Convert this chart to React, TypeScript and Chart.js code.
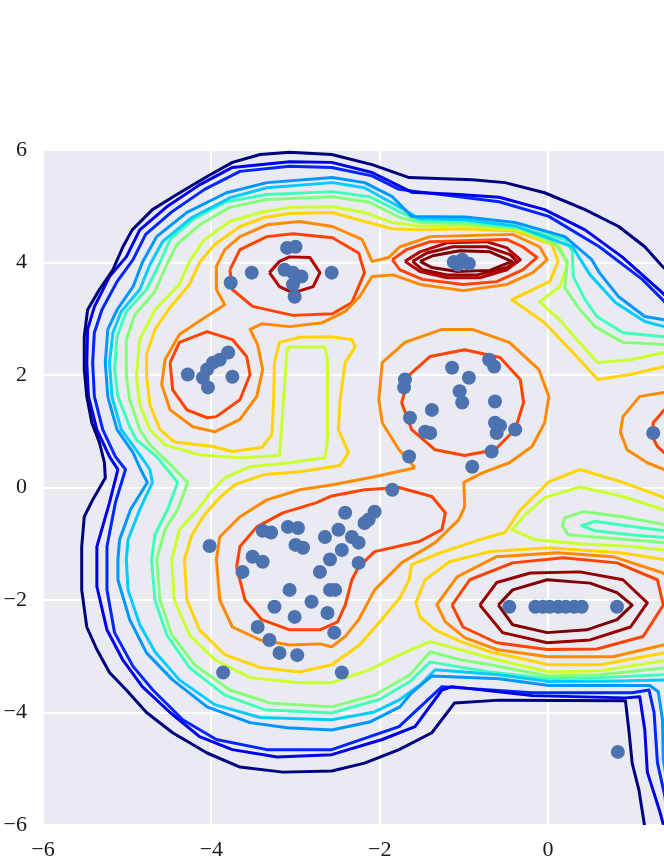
import { useEffect, useRef } from 'react';
import { Chart, registerables } from 'chart.js';

Chart.register(...registerables);

type Pt = [number, number];

const X_MIN = -6;
const X_MAX = 1.378;
const Y_MIN = -6;
const Y_MAX = 6;
const xTickValues = [-6, -4, -2, 0];
const yTickValues = [-6, -4, -2, 0, 2, 4, 6];

// ---- scatter points ----
const pointsA: Pt[] = [[-3.10,4.26],[-3.00,4.28],[-3.52,3.82],[-3.77,3.64],[-3.13,3.87],[-3.03,3.82],[-2.93,3.75],[-3.03,3.61],[-3.01,3.39],[-2.57,3.82]];
const pointsB: Pt[] = [[-4.28,2.01],[-4.05,2.10],[-3.98,2.22],[-3.90,2.27],[-3.80,2.40],[-4.10,1.95],[-4.04,1.78],[-3.75,1.97]];
const pointsC: Pt[] = [[-1.12,4.01],[-1.02,4.05],[-0.94,3.98],[-1.07,3.96]];
const pointsD: Pt[] = [[-1.14,2.13],[-0.70,2.27],[-0.64,2.15],[-0.94,1.95],[-1.05,1.71],[-1.02,1.51],[-0.63,1.53],[-1.70,1.92],[-1.71,1.78],[-1.38,1.38],[-1.64,1.24],[-1.46,0.99],[-1.40,0.97],[-0.63,1.15],[-0.57,1.10],[-0.61,0.97],[-0.39,1.03],[-0.67,0.64],[-1.65,0.55],[-0.90,0.37],[-1.85,-0.04]];
const pointsE: Pt[] = [[-4.02,-1.04],[-3.39,-0.77],[-3.29,-0.80],[-3.09,-0.70],[-2.97,-0.72],[-2.91,-1.07],[-3.00,-1.02],[-3.51,-1.23],[-3.39,-1.32],[-3.63,-1.50],[-2.71,-1.50],[-2.65,-0.88],[-2.59,-1.28],[-3.07,-1.82],[-2.81,-2.03],[-3.25,-2.12],[-3.01,-2.30],[-2.59,-1.82],[-2.62,-2.23],[-3.45,-2.48],[-3.31,-2.71],[-3.19,-2.94],[-2.98,-2.98],[-2.54,-2.58],[-3.86,-3.29],[-2.45,-3.29],[-2.41,-0.45],[-2.06,-0.43],[-2.13,-0.57],[-2.18,-0.63],[-2.49,-0.75],[-2.33,-0.88],[-2.25,-0.98],[-2.45,-1.11],[-2.25,-1.34],[-2.53,-1.82]];
const pointsF: Pt[] = [[-0.46,-2.12],[-0.15,-2.12],[-0.06,-2.12],[0.02,-2.12],[0.12,-2.12],[0.21,-2.12],[0.31,-2.12],[0.40,-2.12],[0.82,-2.12]];
const pointsOther: Pt[] = [[1.25,0.97],[0.83,-4.70]];

// ---- contour lines (level index 0 = outermost) ----
const lvl0: Pt[] = [[1.81,3.34],[1.36,3.93],[1.15,4.28],[0.84,4.64],[0.44,4.94],[-0.04,5.24],[-0.51,5.42],[-0.90,5.47],[-1.65,5.51],[-2.09,5.74],[-2.57,5.92],[-3.07,5.96],[-3.42,5.92],[-3.75,5.78],[-4.05,5.53],[-4.41,5.21],[-4.70,4.94],[-4.94,4.58],[-5.05,4.28],[-5.17,3.87],[-5.33,3.52],[-5.47,3.16],[-5.51,2.68],[-5.51,2.10],[-5.48,1.62],[-5.42,1.15],[-5.33,0.80],[-5.27,0.44],[-5.26,0.17],[-5.41,-0.22],[-5.51,-0.52],[-5.54,-1.05],[-5.54,-1.82],[-5.48,-2.48],[-5.36,-2.88],[-5.21,-3.29],[-5.01,-3.60],[-4.77,-4.00],[-4.46,-4.36],[-4.05,-4.72],[-3.66,-4.97],[-3.15,-5.06],[-2.57,-5.04],[-2.18,-4.90],[-1.77,-4.66],[-1.38,-4.36],[-1.11,-3.83],[-0.58,-3.78],[0.92,-3.79],[0.96,-4.31],[1.00,-4.90],[1.08,-5.38],[1.15,-6.04],[1.21,-6.80]];
const lvl1: Pt[] = [[1.81,2.80],[1.36,3.46],[0.88,4.10],[0.44,4.58],[-0.04,4.94],[-0.58,5.16],[-1.06,5.21],[-1.62,5.25],[-2.09,5.60],[-2.57,5.78],[-3.07,5.79],[-3.75,5.69],[-4.14,5.38],[-4.53,4.99],[-4.85,4.58],[-5.01,4.10],[-5.21,3.75],[-5.39,3.21],[-5.47,2.81],[-5.48,2.22],[-5.46,1.62],[-5.36,1.03],[-5.21,0.55],[-5.11,0.32],[-5.21,-0.27],[-5.36,-1.05],[-5.36,-1.76],[-5.24,-2.53],[-5.05,-3.07],[-4.82,-3.54],[-4.49,-4.00],[-4.14,-4.43],[-3.75,-4.66],[-3.22,-4.79],[-2.57,-4.75],[-1.97,-4.48],[-1.58,-4.25],[-1.26,-3.60],[-1.14,-3.54],[-0.19,-3.70],[0.92,-3.74],[1.09,-3.72],[1.15,-4.31],[1.18,-5.06],[1.33,-5.77],[1.45,-6.44]];
const lvl2: Pt[] = [[1.81,2.63],[1.36,3.34],[1.12,3.70],[0.61,4.28],[0.01,4.82],[-0.58,5.08],[-1.77,5.30],[-2.09,5.54],[-2.57,5.69],[-3.07,5.71],[-3.66,5.62],[-4.08,5.30],[-4.47,4.90],[-4.78,4.50],[-4.93,4.05],[-5.12,3.66],[-5.30,3.16],[-5.39,2.75],[-5.41,2.22],[-5.39,1.62],[-5.29,1.03],[-5.14,0.55],[-5.02,0.32],[-5.14,-0.27],[-5.24,-1.05],[-5.24,-1.82],[-5.15,-2.58],[-4.93,-3.18],[-4.70,-3.59],[-4.34,-4.13],[-3.94,-4.48],[-3.34,-4.66],[-2.57,-4.66],[-1.77,-4.25],[-1.26,-3.54],[-0.19,-3.65],[1.00,-3.65],[1.20,-3.60],[1.26,-4.00],[1.30,-4.89],[1.39,-5.50],[1.45,-6.30]];
const lvl3: Pt[] = [[1.69,2.90],[1.38,2.98],[1.15,3.04],[0.84,3.39],[0.61,3.82],[0.52,4.05],[0.20,4.46],[-0.39,4.71],[-0.98,4.81],[-1.62,4.82],[-1.85,5.17],[-2.18,5.42],[-2.56,5.51],[-3.34,5.42],[-3.82,5.24],[-4.29,4.89],[-4.65,4.46],[-4.82,4.00],[-4.93,3.57],[-5.12,3.16],[-5.23,2.81],[-5.26,2.22],[-5.23,1.61],[-5.12,1.03],[-4.93,0.62],[-4.84,0.32],[-4.76,0.09],[-4.96,-0.39],[-5.09,-0.93],[-5.11,-1.28],[-5.11,-1.64],[-4.97,-2.35],[-4.77,-2.94],[-4.46,-3.42],[-4.05,-3.90],[-3.54,-4.18],[-3.10,-4.27],[-2.57,-4.31],[-2.12,-4.17],[-1.76,-3.90],[-1.62,-3.65],[-1.38,-3.35],[-0.58,-3.40],[0.01,-3.52],[0.92,-3.52],[1.21,-3.52],[1.31,-3.63],[1.36,-4.13],[1.37,-4.84],[1.45,-5.55],[1.57,-6.44]];
const lvl4: Pt[] = [[1.69,2.81],[1.38,2.86],[1.15,2.95],[0.80,3.29],[0.50,3.78],[0.29,4.28],[-0.39,4.65],[-0.98,4.76],[-1.53,4.78],[-1.77,4.99],[-2.18,5.33],[-2.56,5.42],[-3.34,5.33],[-3.78,5.15],[-4.23,4.80],[-4.58,4.37],[-4.73,3.96],[-4.85,3.52],[-5.07,3.13],[-5.17,2.75],[-5.21,2.22],[-5.18,1.61],[-5.07,1.03],[-4.85,0.58],[-4.73,0.32],[-4.70,0.09],[-4.85,-0.39],[-4.99,-0.93],[-5.01,-1.28],[-4.99,-1.82],[-4.85,-2.44],[-4.67,-2.92],[-4.38,-3.42],[-3.96,-3.86],[-3.42,-4.09],[-2.57,-4.13],[-2.06,-3.99],[-1.76,-3.77],[-1.52,-3.51],[-1.34,-3.24],[-0.58,-3.33],[0.01,-3.45],[0.86,-3.44],[1.38,-3.42],[1.69,-3.42]];
const lvl5: Pt[] = [[1.69,2.63],[1.38,2.68],[0.89,2.75],[0.58,3.04],[0.44,3.34],[0.30,3.75],[0.29,4.19],[0.20,4.41],[-0.33,4.62],[-0.98,4.73],[-1.52,4.74],[-1.76,4.90],[-2.12,5.17],[-2.56,5.26],[-3.34,5.21],[-3.82,5.08],[-4.22,4.76],[-4.49,4.41],[-4.61,4.00],[-4.77,3.52],[-5.01,3.13],[-5.12,2.68],[-5.15,2.10],[-5.11,1.62],[-4.97,1.08],[-4.89,0.85],[-4.65,0.55],[-4.40,0.09],[-4.52,-0.39],[-4.67,-0.84],[-4.71,-1.28],[-4.67,-2.00],[-4.53,-2.62],[-4.26,-3.20],[-3.84,-3.69],[-3.37,-3.95],[-2.57,-4.01],[-2.00,-3.77],[-1.64,-3.45],[-1.40,-3.10],[-1.05,-3.19],[-0.69,-3.28],[0.01,-3.40],[0.62,-3.38],[1.38,-3.33],[1.69,-3.31]];
const lvl5Tongue: Pt[] = [[1.69,-0.75],[1.38,-0.77],[0.89,-0.67],[0.56,-0.60],[0.40,-0.68],[0.56,-0.77],[0.98,-0.84],[1.38,-0.89],[1.69,-0.93]];
const lvl6: Pt[] = [[1.69,2.50],[1.38,2.54],[0.89,2.58],[0.56,2.86],[0.38,3.16],[0.20,3.55],[0.23,4.02],[0.08,4.34],[-0.33,4.60],[-0.98,4.69],[-1.52,4.71],[-1.76,4.80],[-2.12,5.07],[-2.56,5.17],[-3.34,5.12],[-3.78,4.98],[-4.14,4.67],[-4.41,4.32],[-4.53,3.96],[-4.67,3.48],[-4.91,3.07],[-5.01,2.63],[-5.01,1.99],[-4.97,1.56],[-4.85,1.03],[-4.73,0.76],[-4.49,0.41],[-4.28,0.09],[-4.40,-0.39],[-4.55,-0.75],[-4.65,-1.28],[-4.61,-2.00],[-4.47,-2.62],[-4.20,-3.15],[-3.78,-3.60],[-3.31,-3.83],[-2.57,-3.90],[-2.06,-3.69],[-1.64,-3.33],[-1.40,-2.92],[-1.05,-3.06],[-0.69,-3.15],[0.01,-3.35],[0.62,-3.33],[1.38,-3.21],[1.69,-3.19]];
const lvl6Tongue: Pt[] = [[1.69,-0.63],[1.38,-0.66],[0.89,-0.52],[0.42,-0.43],[0.20,-0.54],[0.17,-0.68],[0.24,-0.84],[0.62,-0.89],[1.38,-0.98],[1.69,-1.00]];
const lvl7: Pt[] = [[1.69,2.45],[1.38,2.40],[0.98,2.27],[0.59,2.22],[0.34,2.63],[0.14,2.98],[-0.10,3.30],[0.14,3.57],[0.23,3.96],[0.14,4.28],[-0.33,4.58],[-0.98,4.65],[-1.52,4.65],[-1.85,4.71],[-2.18,4.89],[-2.56,4.99],[-3.07,4.98],[-3.42,4.89],[-3.78,4.73],[-4.08,4.41],[-4.26,4.02],[-4.38,3.61],[-4.67,3.16],[-4.85,2.63],[-4.89,1.99],[-4.85,1.47],[-4.73,1.03],[-4.55,0.76],[-4.14,0.58],[-3.66,0.53],[-3.19,0.57],[-3.10,2.45],[-3.07,2.50],[-2.65,2.50],[-2.62,2.27],[-2.62,0.85],[-2.65,0.53],[-3.07,0.44],[-3.54,0.37],[-3.84,0.17],[-4.01,-0.09],[-4.16,-0.39],[-4.38,-0.75],[-4.47,-1.28],[-4.44,-2.00],[-4.26,-2.62],[-3.96,-3.06],[-3.54,-3.38],[-2.95,-3.47],[-2.57,-3.47],[-2.12,-3.24],[-1.76,-2.97],[-1.40,-2.74],[-1.05,-2.88],[-0.69,-3.03],[0.01,-3.28],[0.62,-3.26],[1.38,-3.08],[1.69,-3.03]];
const lvl7Tongue: Pt[] = [[1.69,-0.36],[1.38,-0.40],[0.89,-0.16],[0.38,0.01],[-0.04,-0.18],[-0.27,-0.48],[-0.43,-0.75],[-0.15,-0.93],[0.38,-1.00],[0.98,-1.05],[1.38,-1.11],[1.69,-1.14]];
const lvl8: Pt[] = [[1.69,2.19],[1.38,2.15],[0.98,2.01],[0.59,1.92],[0.34,2.33],[-0.04,2.93],[-0.43,3.34],[0.02,3.66],[0.12,4.02],[0.05,4.32],[-0.39,4.56],[-0.98,4.60],[-1.52,4.58],[-1.85,4.60],[-2.18,4.73],[-2.56,4.89],[-3.07,4.87],[-3.37,4.80],[-3.66,4.64],[-3.96,4.32],[-4.14,4.00],[-4.26,3.61],[-4.49,3.20],[-4.67,2.81],[-4.77,2.36],[-4.77,1.99],[-4.73,1.47],[-4.61,1.03],[-4.44,0.81],[-3.98,0.73],[-3.75,0.64],[-3.40,0.71],[-3.28,0.94],[-3.26,1.56],[-3.25,2.22],[-3.19,2.58],[-2.95,2.67],[-2.59,2.68],[-2.33,2.63],[-2.29,2.50],[-2.41,2.22],[-2.47,1.56],[-2.49,1.03],[-2.37,0.62],[-2.47,0.39],[-2.95,0.28],[-3.37,0.23],[-3.72,0.05],[-3.90,-0.18],[-4.08,-0.48],[-4.23,-0.84],[-4.32,-1.28],[-4.29,-2.00],[-4.14,-2.53],[-3.84,-2.97],[-3.42,-3.20],[-2.95,-3.28],[-2.57,-3.15],[-2.24,-2.80],[-2.00,-2.39],[-1.76,-1.96],[-1.65,-1.64],[-1.62,-1.37],[-1.28,-1.16],[-0.82,-0.93],[-0.51,-0.80],[-0.33,-0.40],[0.01,0.10],[0.38,0.32],[0.89,0.09],[1.38,-0.18],[1.69,-0.31]];
const lvl8F: Pt[] = [[1.69,-1.37],[1.38,-1.28],[0.86,-1.16],[0.00,-1.07],[-0.69,-1.14],[-1.17,-1.32],[-1.46,-1.64],[-1.57,-2.05],[-1.52,-2.30],[-1.34,-2.53],[-1.05,-2.73],[-0.69,-2.92],[0.01,-3.15],[0.62,-3.15],[1.38,-2.94],[1.69,-2.88]];
const lvl9ABC: Pt[] = [[-2.95,4.73],[-2.56,4.64],[-2.21,4.41],[-2.09,4.02],[-1.89,4.09],[-1.76,4.28],[-1.40,4.46],[-0.42,4.50],[-0.10,4.28],[-0.01,4.05],[-0.18,3.82],[-0.49,3.61],[-1.01,3.50],[-1.52,3.61],[-1.84,3.78],[-2.09,3.75],[-2.24,3.39],[-2.41,3.13],[-2.68,2.93],[-3.07,2.86],[-3.40,2.91],[-3.54,2.81],[-3.45,2.54],[-3.39,2.10],[-3.46,1.62],[-3.66,1.21],[-3.96,0.99],[-4.22,1.08],[-4.49,1.38],[-4.59,1.83],[-4.55,2.27],[-4.38,2.72],[-4.08,3.02],[-3.84,3.25],[-3.94,3.52],[-3.94,3.93],[-3.84,4.23],[-3.66,4.46],[-3.34,4.67]];
const lvl9DE: Pt[] = [[-1.58,0.35],[-1.77,0.67],[-1.97,1.15],[-2.01,1.56],[-1.97,2.22],[-1.70,2.58],[-1.26,2.81],[-0.90,2.81],[-0.46,2.58],[-0.11,2.10],[0.01,1.62],[-0.04,1.15],[-0.19,0.73],[-0.46,0.44],[-0.78,0.26],[-1.00,0.09],[-0.99,-0.34],[-1.06,-0.57],[-1.34,-0.98],[-1.74,-1.34],[-2.06,-1.82],[-2.25,-2.35],[-2.41,-2.65],[-2.57,-2.83],[-2.71,-2.78],[-3.07,-2.80],[-3.42,-2.71],[-3.75,-2.48],[-3.90,-2.00],[-3.94,-1.28],[-3.90,-0.88],[-3.66,-0.52],[-3.34,-0.22],[-2.95,-0.04],[-2.56,0.05],[-2.06,0.19]];
const lvl9F: Pt[] = [[1.69,-2.00],[1.37,-1.52],[0.77,-1.23],[0.11,-1.16],[-0.61,-1.23],[-1.08,-1.59],[-1.32,-2.08],[-1.22,-2.39],[-0.99,-2.67],[-0.61,-2.88],[-0.01,-3.01],[0.77,-3.01],[1.37,-2.80],[1.69,-2.62]];
const lvl9G: Pt[] = [[1.69,1.74],[1.38,1.69],[1.09,1.62],[0.89,1.26],[0.86,0.98],[0.94,0.67],[1.18,0.44],[1.38,0.32],[1.69,0.28]];
const lvl10A: Pt[] = [[-3.78,3.87],[-3.66,4.23],[-3.34,4.46],[-3.03,4.51],[-2.56,4.44],[-2.25,4.17],[-2.18,3.82],[-2.33,3.29],[-2.56,3.09],[-3.03,3.06],[-3.51,3.22],[-3.75,3.52]];
const lvl10B: Pt[] = [[-4.49,2.22],[-4.38,2.58],[-4.05,2.77],[-3.75,2.63],[-3.58,2.33],[-3.54,2.01],[-3.66,1.56],[-3.94,1.26],[-4.05,1.24],[-4.29,1.38],[-4.46,1.74]];
const lvl10C: Pt[] = [[-1.85,4.05],[-1.68,4.23],[-1.40,4.37],[-0.49,4.41],[-0.30,4.28],[-0.13,4.09],[-0.30,3.87],[-0.61,3.66],[-1.01,3.61],[-1.49,3.70],[-1.76,3.87]];
const lvl10D: Pt[] = [[-1.74,1.51],[-1.64,2.01],[-1.40,2.33],[-0.99,2.45],[-0.57,2.31],[-0.33,1.92],[-0.29,1.51],[-0.39,1.03],[-0.63,0.67],[-0.99,0.57],[-1.34,0.67],[-1.62,1.03]];
const lvl10E: Pt[] = [[-3.70,-1.41],[-3.66,-1.05],[-3.46,-0.70],[-3.15,-0.45],[-2.75,-0.27],[-2.57,-0.15],[-2.18,-0.04],[-1.77,0.00],[-1.38,-0.16],[-1.22,-0.45],[-1.26,-0.75],[-1.53,-0.96],[-2.06,-1.14],[-2.25,-1.41],[-2.33,-1.64],[-2.41,-2.09],[-2.50,-2.39],[-2.71,-2.53],[-3.07,-2.53],[-3.40,-2.35],[-3.60,-2.00]];
const lvl10F: Pt[] = [[-1.14,-2.09],[-0.93,-1.64],[-0.42,-1.34],[0.18,-1.25],[0.82,-1.34],[1.30,-1.64],[1.37,-2.09],[1.13,-2.65],[0.58,-2.87],[-0.01,-2.88],[-0.61,-2.76],[-1.01,-2.48]];
const lvl10G: Pt[] = [[1.69,1.42],[1.38,1.38],[1.25,1.15],[1.24,0.90],[1.30,0.73],[1.38,0.62],[1.69,0.58]];
const lvl11A: Pt[] = [[-3.31,3.82],[-3.19,4.02],[-3.07,4.10],[-2.83,4.09],[-2.71,3.82],[-2.79,3.57],[-3.03,3.46],[-3.19,3.57]];
const lvl11C: Pt[] = [[-1.70,4.02],[-1.52,4.19],[-1.20,4.35],[-0.73,4.37],[-0.49,4.26],[-0.33,4.05],[-0.49,3.87],[-0.81,3.73],[-1.20,3.73],[-1.52,3.84]];
const lvl12C: Pt[] = [[-1.61,4.02],[-1.44,4.17],[-1.13,4.28],[-0.73,4.28],[-0.45,4.14],[-0.37,4.02],[-0.49,3.91],[-0.84,3.78],[-1.20,3.78],[-1.49,3.87]];
const lvl12F: Pt[] = [[-0.81,-2.09],[-0.61,-1.69],[-0.21,-1.52],[0.38,-1.50],[0.89,-1.64],[1.18,-2.05],[0.98,-2.48],[0.50,-2.71],[-0.01,-2.76],[-0.54,-2.58]];
const lvl13C: Pt[] = [[-1.52,4.02],[-1.37,4.12],[-1.05,4.21],[-0.69,4.19],[-0.43,4.02],[-0.69,3.86],[-1.08,3.84],[-1.38,3.91]];
const lvl13F: Pt[] = [[-0.59,-2.09],[-0.42,-1.82],[-0.01,-1.64],[0.50,-1.70],[0.82,-1.87],[1.00,-2.09],[0.82,-2.35],[0.46,-2.53],[-0.01,-2.58],[-0.42,-2.44]];

// styles
const LEVEL_COLORS = ['#00007f','#0000e8','#0026ff','#0096ff','#00ccff','#40ffb8','#86ff78','#cbff2e','#ffd400','#ff8a00','#ff4300','#b40000','#980000','#7f0000'];

const closed = (a: Pt[]): Pt[] => [...a, a[0]];

const contourSets: [number, Pt[]][] = [
  [0, lvl0], [1, lvl1], [2, lvl2], [3, lvl3], [4, lvl4],
  [5, lvl5], [5, lvl5Tongue], [6, lvl6], [6, lvl6Tongue],
  [7, lvl7], [7, lvl7Tongue], [8, lvl8], [8, lvl8F],
  [9, closed(lvl9ABC)], [9, closed(lvl9DE)], [9, lvl9F], [9, lvl9G],
  [10, closed(lvl10A)], [10, closed(lvl10B)], [10, closed(lvl10C)], [10, closed(lvl10D)],
  [10, closed(lvl10E)], [10, closed(lvl10F)], [10, lvl10G],
  [11, closed(lvl11A)], [11, closed(lvl11C)],
  [12, closed(lvl12C)], [12, closed(lvl12F)],
  [13, closed(lvl13C)], [13, closed(lvl13F)],
];

const allPoints: Pt[] = [...pointsA, ...pointsB, ...pointsC, ...pointsD, ...pointsE, ...pointsF, ...pointsOther];

const fmt = (v: number | string) => {
  const n = Number(v);
  return n < 0 ? '\u2212' + Math.abs(n) : String(n);
};

export default function App() {
  const ref = useRef<HTMLCanvasElement>(null);
  useEffect(() => {
    const canvas = ref.current;
    if (!canvas) return;
    const bg = {
      id: 'plotBg',
      beforeDraw(chart: any) {
        const { ctx, chartArea: a } = chart;
        ctx.save();
        ctx.fillStyle = '#eaeaf2';
        ctx.fillRect(a.left, a.top, a.right - a.left, a.bottom - a.top);
        ctx.restore();
      },
    };
    const toXY = (arr: Pt[]) => arr.map(([x, y]) => ({ x, y }));
    const datasets: any[] = [
      {
        label: 'points',
        data: toXY(allPoints),
        showLine: false,
        pointRadius: 7,
        pointHoverRadius: 7,
        pointBackgroundColor: '#4c72b0',
        pointBorderWidth: 0,
        borderColor: '#4c72b0',
      },
      ...contourSets.map(([lvl, pts], i) => ({
        label: 'c' + i,
        data: toXY(pts),
        showLine: true,
        borderColor: LEVEL_COLORS[lvl],
        borderWidth: 3,
        pointRadius: 0,
        pointHoverRadius: 0,
        fill: false,
        tension: 0,
        borderJoinStyle: 'round',
      })),
    ];
    const tickFont = { family: "'Liberation Serif', serif", size: 22 };
    const chart = new Chart(canvas, {
      type: 'scatter',
      data: { datasets },
      options: {
        responsive: false,
        animation: false,
        events: [],
        layout: { autoPadding: false, padding: { top: 150, right: 0, bottom: 0, left: 0 } },
        plugins: { legend: { display: false }, tooltip: { enabled: false } },
        scales: {
          x: {
            type: 'linear',
            min: X_MIN,
            max: X_MAX,
            afterBuildTicks: (s: any) => { s.ticks = xTickValues.map((v) => ({ value: v })); },
            afterFit: (s: any) => { s.height = 35; s.paddingLeft = 0; s.paddingRight = 0; },
            ticks: { padding: 12, font: tickFont, color: '#1a1a1a', callback: fmt, maxRotation: 0 },
            grid: { color: '#ffffff', lineWidth: 2, drawTicks: false },
            border: { display: false },
          },
          y: {
            type: 'linear',
            min: Y_MIN,
            max: Y_MAX,
            afterBuildTicks: (s: any) => { s.ticks = yTickValues.map((v) => ({ value: v })); },
            afterFit: (s: any) => { s.width = 43; s.paddingTop = 0; s.paddingBottom = 0; },
            ticks: { padding: 16, font: tickFont, color: '#1a1a1a', callback: fmt },
            grid: { color: '#ffffff', lineWidth: 2, drawTicks: false },
            border: { display: false },
          },
        },
      } as any,
      plugins: [bg],
    });
    return () => chart.destroy();
  }, []);
  return (
    <div style={{ position: 'fixed', left: 0, top: 0, width: 664, height: 860, overflow: 'hidden', background: '#ffffff' }}>
      <canvas ref={ref} width={664} height={860} style={{ display: 'block' }} />
    </div>
  );
}
